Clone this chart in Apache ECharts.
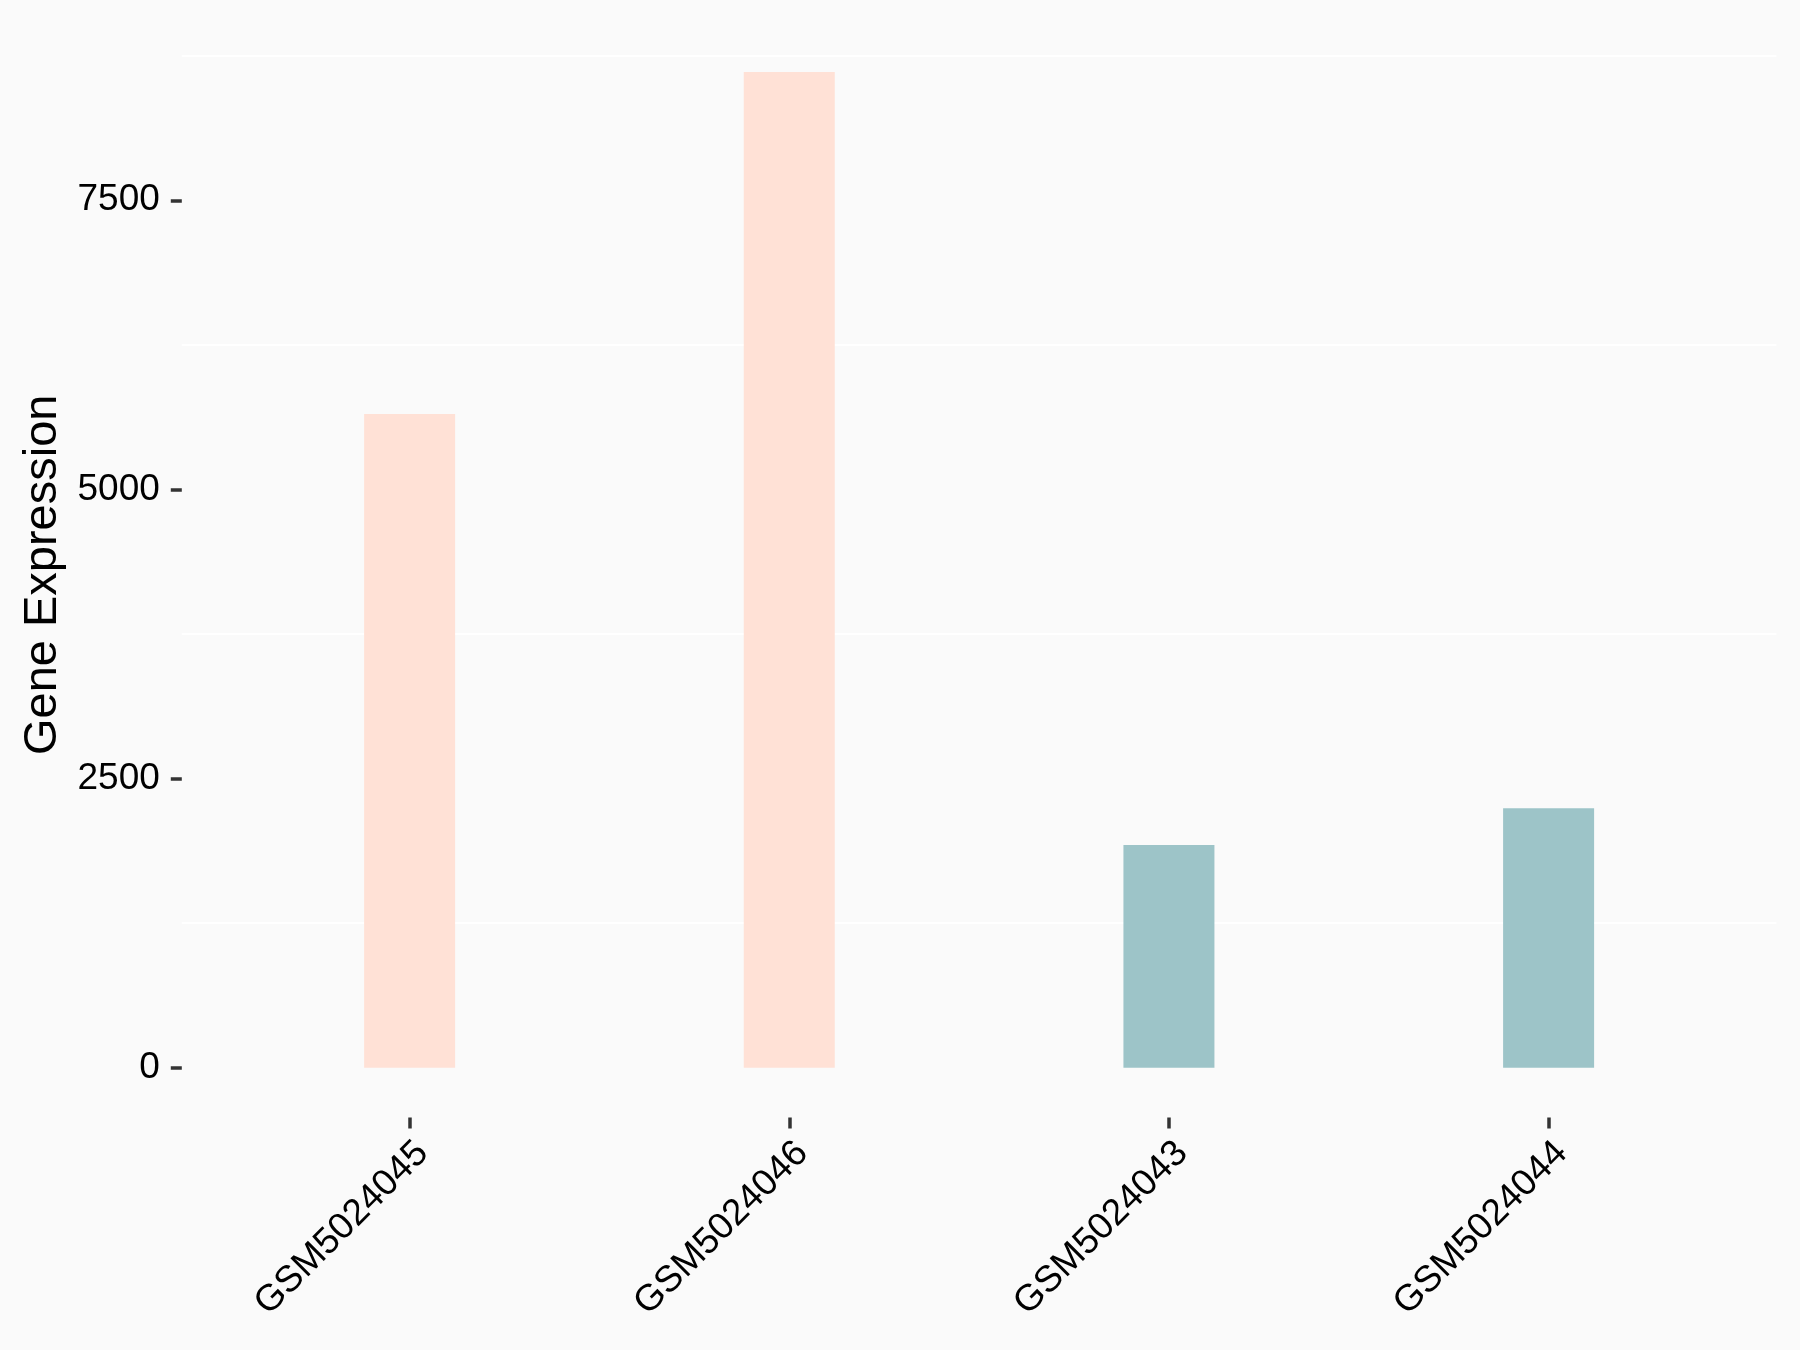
<!DOCTYPE html>
<html>
<head>
<meta charset="utf-8">
<script src="https://cdn.jsdelivr.net/npm/echarts@6/dist/echarts.min.js"></script>
<style>
html, body { margin: 0; padding: 0; background: #FAFAFA; }
#chart { width: 1800px; height: 1350px; }
</style>
</head>
<body>
<div id="chart"></div>
<script>
// ---- data ----
const categories = ['GSM5024045', 'GSM5024046', 'GSM5024043', 'GSM5024044'];
const expression = [5653, 8610, 1925, 2244];
const sampleGroup = [0, 0, 1, 1];
const yTickValues = [0, 2500, 5000, 7500];
const yGridValues = [1250, 3750, 6250, 8750];

// ---- styles ----
const groupColors = ['#FFE1D6', '#9DC4C8'];
const FONT = '"Liberation Sans", Arial, Helvetica, sans-serif';

const n = categories.length;
const positions = categories.map((c, i) => i + 1);
const yMax = Math.max.apply(null, expression);
const yLo = -0.05 * yMax;
const yHi = 1.05 * yMax;

const chart = echarts.init(document.getElementById('chart'), null, { renderer: 'canvas' });

const option = {
  backgroundColor: '#FAFAFA',
  animation: false,
  grid: {
    left: 181.8, right: 23.6, top: 22.1, bottom: 232.5,
    containLabel: false, outerBoundsMode: 'none'
  },
  xAxis: {
    type: 'value',
    min: 0.4,
    max: n + 0.6,
    axisLine: { show: false, onZero: false },
    splitLine: { show: false },
    axisTick: {
      show: true, customValues: positions, length: 11,
      lineStyle: { color: '#333333', width: 3.5 }
    },
    axisLabel: {
      customValues: positions,
      formatter: function (v) { return categories[Math.round(v) - 1]; },
      rotate: 45,
      margin: 17,
      verticalAlign: 'top',
      fontSize: 37,
      color: '#000000',
      fontFamily: FONT
    }
  },
  yAxis: [
    {
      type: 'value',
      min: yLo,
      max: yHi,
      position: 'left',
      name: 'Gene Expression',
      nameLocation: 'middle',
      nameGap: 103,
      nameTextStyle: { fontSize: 47, color: '#000000', fontFamily: FONT, padding: [0, 10, 0, 0] },
      axisLine: { show: false, onZero: false },
      splitLine: { show: false },
      axisTick: {
        show: true, customValues: yTickValues, length: 11,
        lineStyle: { color: '#333333', width: 3.5 }
      },
      axisLabel: {
        customValues: yTickValues,
        formatter: function (v) { return String(Math.round(v)); },
        margin: 22,
        padding: [5, 0, 0, 0],
        fontSize: 37,
        color: '#000000',
        fontFamily: FONT
      }
    },
    {
      type: 'value',
      min: yLo,
      max: yHi,
      position: 'right',
      axisLine: { show: false, onZero: false },
      axisLabel: { show: false },
      axisTick: { show: false, customValues: yGridValues },
      splitLine: { show: true, lineStyle: { color: '#FFFFFF', width: 2 } }
    }
  ],
  series: [
    {
      type: 'bar',
      xAxisIndex: 0,
      yAxisIndex: 0,
      barWidth: 91,
      data: positions.map((p, i) => ({
        value: [p, expression[i]],
        itemStyle: { color: groupColors[sampleGroup[i]] }
      }))
    }
  ]
};

chart.setOption(option);
</script>
</body>
</html>
